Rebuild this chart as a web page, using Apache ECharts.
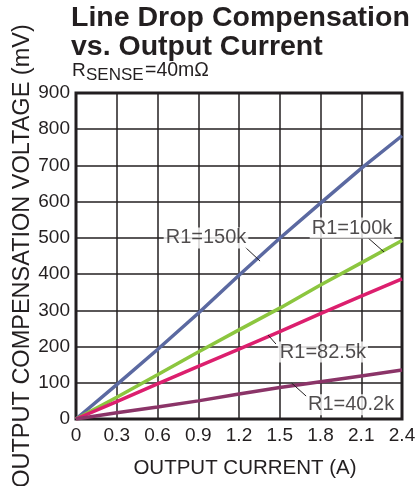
<!DOCTYPE html>
<html>
<head>
<meta charset="utf-8">
<script src="https://cdn.jsdelivr.net/npm/echarts@6/dist/echarts.min.js"></script>
<style>
html,body{margin:0;padding:0;background:#fff;}
#c{width:419px;height:486px;}
</style>
</head>
<body>
<div id="c"></div>
<script>
// ---- data ----
var current = [0, 0.3, 0.6, 0.9, 1.2, 1.5, 1.8, 2.1, 2.4];
var r150 = [0, 95, 192, 292, 397, 499, 596, 692, 782];
var r100 = [0, 60, 122, 185, 246, 306, 370, 431, 493];
var r82  = [0, 48, 97, 145, 193, 241, 291, 339, 387];
var r40  = [0, 17, 33, 50, 69, 87, 103, 119, 135];
var seriesNames = ['R1=150k', 'R1=100k', 'R1=82.5k', 'R1=40.2k'];
// annotation label anchors (data coords) and leader lines
var labelX = [0.957, 2.032, 1.818, 2.025];
var labelY = [500, 527, 185, 39];
var leaderFrom = [[1.244, 475], [2.15, 500], [1.472, 207], [1.698, 62]];
var leaderTo   = [[1.355, 436], [2.268, 461], [1.414, 232], [1.588, 99]];

var FONT = 'Liberation Sans, Arial, Helvetica, sans-serif';
var INK = '#231f20';
var colors = ['#5b69a1', '#8cc63f', '#dc1f6e', '#8b3468'];
var valuesList = [r150, r100, r82, r40];

function pairs(ys) { return current.map(function (x, i) { return [x, ys[i]]; }); }

var series = valuesList.map(function (ys, k) {
  return {
    name: seriesNames[k], type: 'line', data: pairs(ys), showSymbol: false,
    lineStyle: { color: colors[k], width: 3.5 }, z: 3, animation: false
  };
});
series.push({
  type: 'lines', coordinateSystem: 'cartesian2d', z: 4, animation: false,
  lineStyle: { color: INK, width: 1, opacity: 1 },
  data: leaderFrom.map(function (p, i) { return { coords: [p, leaderTo[i]] }; })
});
series.push({
  type: 'scatter', symbolSize: 0, z: 5, animation: false, silent: true,
  data: seriesNames.map(function (n, i) { return { name: n, value: [labelX[i], labelY[i]] }; }),
  label: {
    show: true, position: 'inside', formatter: '{b}', color: INK,
    fontSize: 20, fontFamily: FONT, backgroundColor: '#fff', padding: [1, 2, 0, 2]
  }
});

var chart = echarts.init(document.getElementById('c'), null, { renderer: 'canvas' });
chart.setOption({
  backgroundColor: '#fff',
  animation: false,
  title: {
    text: 'Line Drop Compensation\nvs. Output Current',
    left: 71, top: 3, padding: 0,
    textStyle: { fontSize: 28.5, fontWeight: 'bold', lineHeight: 29.5, color: INK, fontFamily: FONT }
  },
  graphic: [
    { type: 'text', left: 72, top: 61, style: { text: 'R', font: '19px ' + FONT, fill: INK } },
    { type: 'text', left: 86, top: 67, style: { text: 'SENSE', font: '17px ' + FONT, fill: INK } },
    { type: 'text', left: 145, top: 61, style: { text: '=40mΩ', font: '19.5px ' + FONT, fill: INK } }
  ],
  grid: {
    left: 76, right: 17, top: 93, bottom: 67, show: true, borderColor: INK, borderWidth: 3,
    containLabel: false, outerBoundsMode: 'none'
  },
  xAxis: {
    type: 'value', min: 0, max: 2.4, interval: 0.3,
    name: 'OUTPUT CURRENT (A)', nameLocation: 'middle', nameGap: 39, nameMoveOverlap: false,
    nameTextStyle: { fontSize: 20.5, color: INK, fontFamily: FONT, padding: [0, 0, 0, 12] },
    axisLine: { show: false }, axisTick: { show: false },
    axisLabel: { fontSize: 19, color: INK, fontFamily: FONT, margin: 7 },
    splitLine: { show: true, lineStyle: { color: INK, width: 1.5 } }
  },
  yAxis: {
    type: 'value', min: 0, max: 900, interval: 100,
    name: 'OUTPUT COMPENSATION VOLTAGE (mV)', nameLocation: 'middle', nameGap: 41, nameRotate: 90,
    nameMoveOverlap: false,
    nameTextStyle: { fontSize: 23.5, color: INK, fontFamily: FONT },
    axisLine: { show: false }, axisTick: { show: false },
    axisLabel: { fontSize: 19, color: INK, fontFamily: FONT, margin: 6 },
    splitLine: { show: true, lineStyle: { color: INK, width: 1.5 } }
  },
  series: series
});
</script>
</body>
</html>
